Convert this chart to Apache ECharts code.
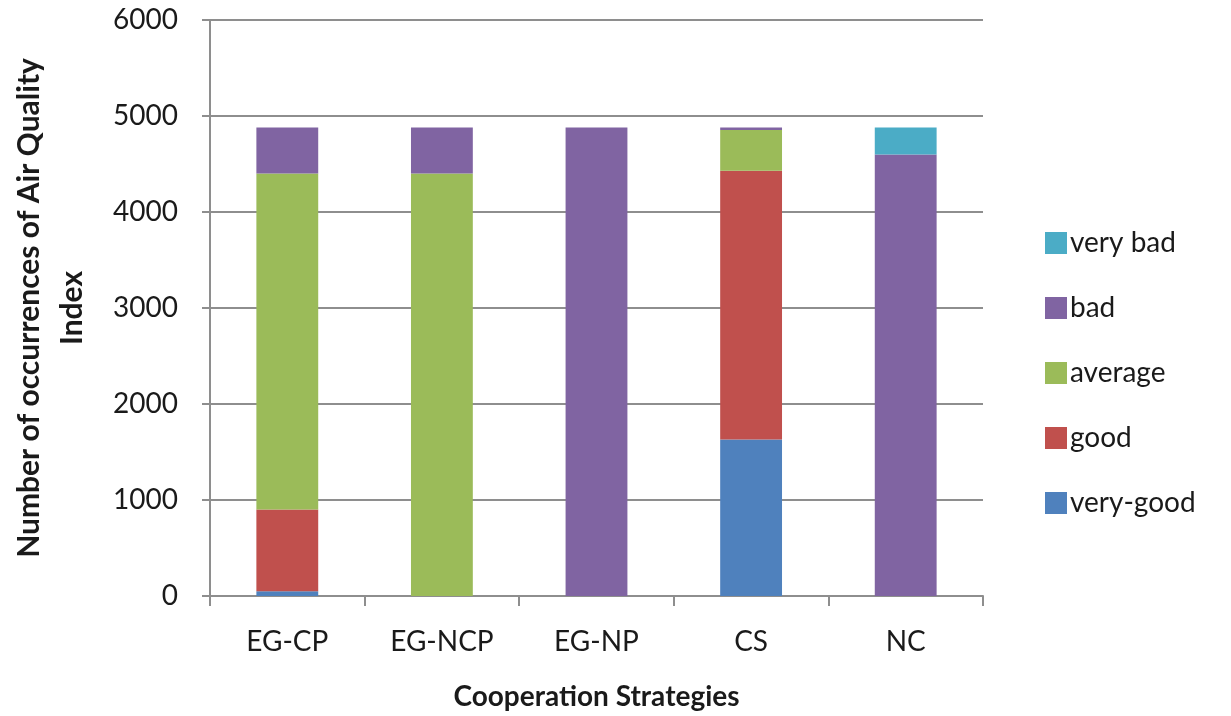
<!DOCTYPE html>
<html>
<head>
<meta charset="utf-8">
<script src="https://cdn.jsdelivr.net/npm/echarts@6/dist/echarts.min.js"></script>
<style>
  html, body { margin: 0; padding: 0; background: #ffffff; }
  #chart { width: 1231px; height: 716px; }
</style>
</head>
<body>
<div id="chart"></div>
<script>
// Cooperation strategies on the x axis
const categories = ['EG-CP', 'EG-NCP', 'EG-NP', 'CS', 'NC'];

// Occurrences of each Air Quality Index class, stacked bottom to top
const veryGood = [50, 0, 0, 1630, 0];
const good     = [850, 0, 0, 2800, 0];
const average  = [3500, 4400, 0, 425, 0];
const bad      = [480, 480, 4880, 25, 4600];
const veryBad  = [0, 0, 0, 0, 280];

// Legend order, top to bottom
const legendOrder = ['very bad', 'bad', 'average', 'good', 'very-good'];

const FONT = 'Lato, "Open Sans", sans-serif';
const GRID_GRAY = '#8e8e8e';

const series = [
  { name: 'very-good', data: veryGood, color: '#4F81BD' },
  { name: 'good',      data: good,     color: '#C0504D' },
  { name: 'average',   data: average,  color: '#9BBB59' },
  { name: 'bad',       data: bad,      color: '#8064A2' },
  { name: 'very bad',  data: veryBad,  color: '#4BACC6' }
].map(s => ({
  name: s.name,
  type: 'bar',
  stack: 'aqi',
  barWidth: '40%',
  data: s.data,
  itemStyle: { color: s.color },
  emphasis: { disabled: true }
}));

const chart = echarts.init(document.getElementById('chart'), null, { renderer: 'canvas' });
chart.setOption({
  animation: false,
  backgroundColor: '#ffffff',
  grid: { left: 205, right: 248, top: 20, bottom: 119, containLabel: false },
  legend: {
    data: legendOrder,
    orient: 'vertical',
    left: 1040,
    top: 224,
    itemWidth: 22,
    itemHeight: 22,
    itemGap: 37,
    icon: 'rect',
    textStyle: { fontFamily: FONT, fontSize: 28, color: '#1a1a1a', padding: [0, 0, 0, -2] }
  },
  xAxis: {
    type: 'category',
    data: categories,
    name: 'Cooperation Strategies',
    nameLocation: 'middle',
    nameGap: 87,
    nameTextStyle: { fontFamily: FONT, fontSize: 28, fontWeight: 'bold', color: '#1a1a1a' },
    axisLine: { lineStyle: { color: GRID_GRAY, width: 2 } },
    axisTick: { show: true, length: 10, lineStyle: { color: GRID_GRAY, width: 2 } },
    axisLabel: { fontFamily: FONT, fontSize: 28, color: '#1a1a1a', margin: 32 }
  },
  yAxis: {
    type: 'value',
    min: 0,
    max: 6000,
    interval: 1000,
    name: 'Number of occurrences of Air Quality\nIndex',
    nameLocation: 'middle',
    nameRotate: 90,
    nameGap: 116,
    nameTextStyle: { fontFamily: FONT, fontSize: 30, fontWeight: 'bold', color: '#1a1a1a', lineHeight: 43, align: 'center' },
    axisLine: { show: true, lineStyle: { color: GRID_GRAY, width: 2 } },
    axisTick: { show: true, length: 8, lineStyle: { color: GRID_GRAY, width: 2 } },
    axisLabel: { fontFamily: FONT, fontSize: 28, color: '#1a1a1a', margin: 32, formatter: v => String(v) },
    splitLine: { show: true, lineStyle: { color: GRID_GRAY, width: 2 } }
  },
  series: series
});
</script>
</body>
</html>
